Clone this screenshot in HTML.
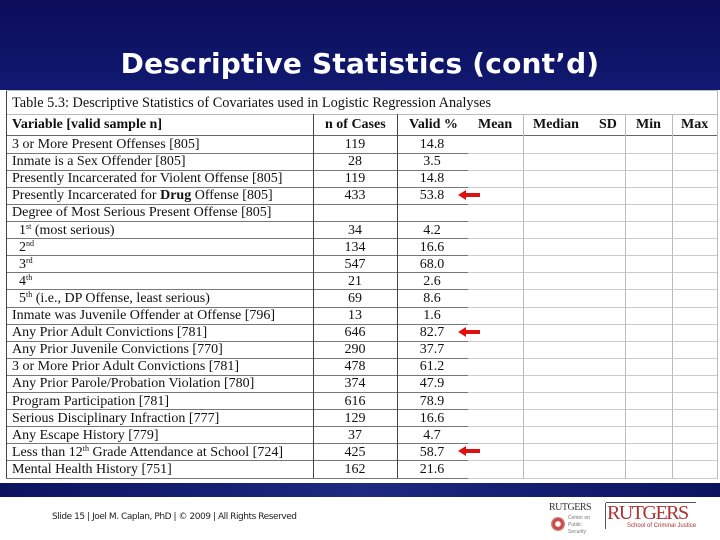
<!DOCTYPE html>
<html><head><meta charset="utf-8"><style>
body{margin:0;width:720px;height:540px;position:relative;overflow:hidden;background:#fff;font-family:"Liberation Serif",serif}
.abs{position:absolute}
#top{left:0;top:0;width:720px;height:90px;background:linear-gradient(#0c0c5a,#101a70)}
#title{left:0;top:47px;width:720px;text-align:center;color:#fff;font:bold 28px "DejaVu Sans",sans-serif;letter-spacing:0.2px}
#band{left:0;top:483px;width:720px;height:14px;background:linear-gradient(90deg,#0c1260,#1c2a80,#0c1260)}
#tbl{left:6px;top:90px;width:712px;height:393px;background:#fff}
.c{position:absolute;font-size:14px;color:#111;white-space:nowrap;line-height:17px}
.hl{position:absolute;height:1px;background:#888}
.vl{position:absolute;width:1px;background:#444}
.lv{position:absolute;width:1px;background:#bbb}
sup{font-size:8px;line-height:0;vertical-align:5px}
</style></head><body>
<div id="top" class="abs"></div>
<div id="title" class="abs">Descriptive Statistics (cont’d)</div>
<div id="tbl" class="abs"></div>
<div id="band" class="abs"></div>
<div class="abs" style="left:52px;top:512px;font:9px 'DejaVu Sans',sans-serif;color:#222;letter-spacing:-0.45px">Slide 15 | Joel M. Caplan, PhD | © 2009 | All Rights Reserved</div>
<div class="abs" style="left:549px;top:502px;font:10px 'Liberation Serif',serif;color:#333;letter-spacing:-0.5px">RUTGERS</div>
<div class="abs" style="left:551px;top:517px;width:14px;height:14px;border-radius:50%;background:radial-gradient(#fff 20%,#b33 40%,#d88 70%)"></div>
<div class="abs" style="left:568px;top:515px;font:5px 'Liberation Sans',sans-serif;color:#777;line-height:7px">Center on<br>Public<br>Security</div>
<div class="abs" style="left:605px;top:503px;width:1px;height:26px;background:#555"></div>
<div class="abs" style="left:606px;top:502px;width:90px;height:1px;background:#555"></div>
<div class="abs" style="left:607px;top:502px;font:20px 'Liberation Serif',serif;color:#a33;letter-spacing:-1.5px">RUTGERS</div>
<div class="abs" style="left:627px;top:523px;font:6px 'Liberation Sans',sans-serif;color:#a33">School of Criminal Justice</div>
<script>
const labels=["3 or More Present Offenses [805]","Inmate is a Sex Offender [805]","Presently Incarcerated for Violent Offense [805]","Presently Incarcerated for <b>Drug</b> Offense [805]","Degree of Most Serious Present Offense [805]","&nbsp;&nbsp;1<sup>st</sup> (most serious)","&nbsp;&nbsp;2<sup>nd</sup>","&nbsp;&nbsp;3<sup>rd</sup>","&nbsp;&nbsp;4<sup>th</sup>","&nbsp;&nbsp;5<sup>th</sup> (i.e., DP Offense, least serious)","Inmate was Juvenile Offender at Offense [796]","Any Prior Adult Convictions [781]","Any Prior Juvenile Convictions [770]","3 or More Prior Adult Convictions [781]","Any Prior Parole/Probation Violation [780]","Program Participation [781]","Serious Disciplinary Infraction [777]","Any Escape History [779]","Less than 12<sup>th</sup> Grade Attendance at School [724]","Mental Health History [751]"];
const nCases=["119","28","119","433","","34","134","547","21","69","13","646","290","478","374","616","129","37","425","162"];
const validPct=["14.8","3.5","14.8","53.8","","4.2","16.6","68.0","2.6","8.6","1.6","82.7","37.7","61.2","47.9","78.9","16.6","4.7","58.7","21.6"];
const arrows=[3,11,18];
function add(html,cls,st,name){const d=document.createElement('div');d.className=cls;d.style.cssText=st;d.innerHTML=html;


document.body.appendChild(d);return d;}
const y0=135.5,rh=17.1;
add("Table 5.3: Descriptive Statistics of Covariates used in Logistic Regression Analyses","c","left:12px;top:95px;font-size:14.3px","table-caption");
const hdr=[["Variable [valid sample n]",12,"left"],["n of Cases",325,""],["Valid %",409,""],["Mean",478,""],["Median",533,""],["SD",599,""],["Min",636,""],["Max",681,""]];
hdr.forEach(h=>add("<b>"+h[0]+"</b>","c","left:"+h[1]+"px;top:116px","column-header"));
add("","hl","left:6px;top:114px;width:712px;background:#bbb","header-top-line");
add("","hl","left:6px;top:"+(y0-1)+"px;width:712px;background:#666","header-bottom-line");
for(let i=0;i<labels.length;i++){const y=y0+i*rh;
add(labels[i],"c","left:12px;top:"+(y+0.5)+"px","row-label");
add(nCases[i],"c","left:313px;width:84px;text-align:center;top:"+(y+0.5)+"px","n-cases-value");
add(validPct[i],"c","left:397px;width:70px;text-align:center;top:"+(y+0.5)+"px","valid-pct-value");
add("","hl","left:6px;top:"+(y+rh)+"px;width:462px;background:#777","row-line");
add("","hl","left:468px;top:"+(y+rh)+"px;width:250px;background:#ccc","row-line-right");}
const yb=y0+labels.length*rh;
[[6,90],[313,114],[397,114]].forEach(v=>add("","vl","left:"+v[0]+"px;top:"+v[1]+"px;height:"+(yb-v[1])+"px","column-divider"));
[[523,114],[625,114],[672,114],[717,90]].forEach(v=>add("","lv","left:"+v[0]+"px;top:"+v[1]+"px;height:"+(yb-v[1])+"px","column-divider-light"));
add("","hl","left:6px;top:90px;width:712px;background:#bbb","table-top-border");
arrows.forEach(i=>{const y=y0+i*rh+8;
const a=add('<svg width="22" height="10"><polygon points="0,5 8,0 8,3 22,3 22,7 8,7 8,10" fill="#e01010"/></svg>',"abs","left:458px;top:"+(y-5)+"px;width:22px;height:10px;line-height:0","red-arrow");});
</script>
</body></html>
